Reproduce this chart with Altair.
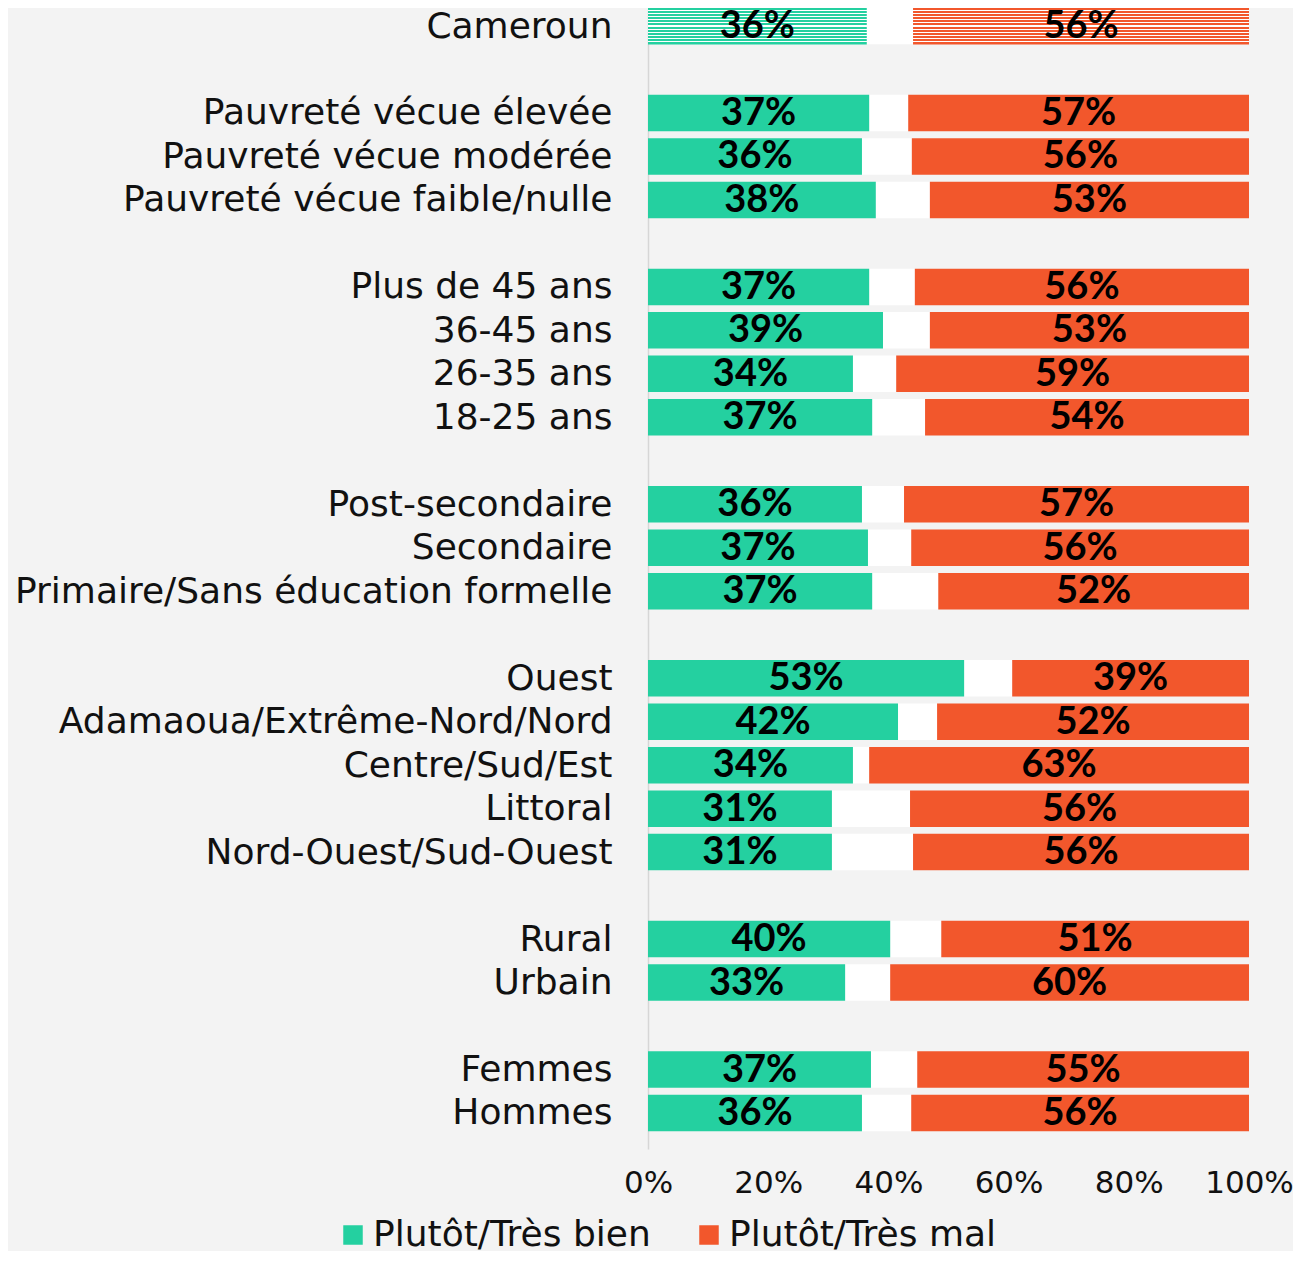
import json
import altair as alt
import pandas as pd

categories = ["Cameroun",
              "Pauvreté vécue élevée", "Pauvreté vécue modérée", "Pauvreté vécue faible/nulle",
              "Plus de 45 ans", "36-45 ans", "26-35 ans", "18-25 ans",
              "Post-secondaire", "Secondaire", "Primaire/Sans éducation formelle",
              "Ouest", "Adamaoua/Extrême-Nord/Nord", "Centre/Sud/Est", "Littoral", "Nord-Ouest/Sud-Ouest",
              "Rural", "Urbain",
              "Femmes", "Hommes"]
groups = [0, 1, 1, 1, 2, 2, 2, 2, 3, 3, 3, 4, 4, 4, 4, 4, 5, 5, 6, 6]
bien = [36.4, 36.8, 35.6, 37.9, 36.8, 39.1, 34.1, 37.3, 35.6, 36.6, 37.3,
        52.6, 41.6, 34.1, 30.6, 30.6, 40.3, 32.8, 37.1, 35.6]
mal = [55.9, 56.7, 56.1, 53.1, 55.6, 53.1, 58.7, 53.9, 57.4, 56.2, 51.7,
       39.4, 51.9, 63.2, 56.4, 55.9, 51.2, 59.7, 55.2, 56.2]
bien_labels = [36, 37, 36, 38, 37, 39, 34, 37, 36, 37, 37, 53, 42, 34, 31, 31, 40, 33, 37, 36]
mal_labels = [56, 57, 56, 53, 56, 53, 59, 54, 57, 56, 52, 39, 52, 63, 56, 56, 51, 60, 55, 56]
series = ["Plutôt/Très bien", "Plutôt/Très mal"]
colors = ["#24D0A0", "#F2572C"]
x_ticks = [0, 20, 40, 60, 80, 100]

rows = [i + g for i, g in enumerate(groups)]
n_rows = max(rows) + 1
row_labels = [""] * n_rows
for r, c in zip(rows, categories):
    row_labels[r] = c

long_rows = []
gap_rows = []
for c, r, b, m, bl, ml in zip(categories, rows, bien, mal, bien_labels, mal_labels):
    long_rows.append(dict(cat=c, row=r, series=series[0], start=0, end=b, mid=b / 2, label=f"{bl}%"))
    long_rows.append(dict(cat=c, row=r, series=series[1], start=100 - m, end=100, mid=100 - m / 2, label=f"{ml}%"))
    gap_rows.append(dict(cat=c, row=r, start=b, end=100 - m))
df = pd.DataFrame(long_rows)
gap_df = pd.DataFrame(gap_rows)

BAR = 36.5
FONT = "DejaVu Sans"

x_scale = alt.Scale(domain=[0, 100], nice=False, zero=False, padding=0)
y_scale = alt.Scale(domain=[-0.368, n_rows - 1 + 0.828], reverse=True, nice=False, zero=False, padding=0)

x_axis = alt.Axis(values=x_ticks, labelExpr="datum.value + '%'", title=None,
                  ticks=False, domain=False, grid=False, labelPadding=19,
                  labelFontSize=31, labelFont=FONT, labelColor="#111",
                  labelFlush=False, labelOverlap=False)
y_enc = alt.Y("row:Q", scale=y_scale,
              axis=alt.Axis(values=rows, labelExpr=json.dumps(row_labels) + "[datum.value]",
                            title=None, ticks=False, grid=False, domain=True,
                            domainColor="#d6d6d6", domainWidth=1.5, labelPadding=36,
                            labelFontSize=36, labelFont=FONT, labelColor="#111",
                            labelLimit=0, labelFlush=False, labelOverlap=False))
x_enc = alt.X("start:Q", scale=x_scale, axis=x_axis)


def stripes(color, n=12, f=0.66):
    p = 1.0 / (n - 1 + f)
    stops = []
    for k in range(n):
        a = k * p
        b = min(1.0, a + f * p)
        stops.append(alt.GradientStop(color=color, offset=a))
        stops.append(alt.GradientStop(color=color, offset=b))
        if k < n - 1:
            stops.append(alt.GradientStop(color="white", offset=b))
            stops.append(alt.GradientStop(color="white", offset=(k + 1) * p))
    return alt.Gradient(gradient="linear", stops=stops, x1=0, x2=0, y1=0, y2=1)


gap = alt.Chart(gap_df).mark_bar(size=BAR, color="white").encode(
    x=x_enc, x2="end:Q", y=y_enc)

bars = alt.Chart(df).transform_filter(alt.datum.cat != categories[0]).mark_bar(size=BAR).encode(
    x=x_enc, x2="end:Q", y=y_enc,
    color=alt.Color("series:N", scale=alt.Scale(domain=series, range=colors),
                    legend=alt.Legend(title=None, orient="none", direction="horizontal",
                                      legendX=-313, legendY=1207, symbolType="square",
                                      symbolSize=380, symbolStrokeWidth=0, labelFontSize=36,
                                      labelFont=FONT, labelColor="#111", labelOffset=2,
                                      columnPadding=40, padding=0, labelLimit=0)))

cam_layers = []
for s, col in zip(series, colors):
    cam_layers.append(
        alt.Chart(df).transform_filter((alt.datum.cat == categories[0]) & (alt.datum.series == s))
        .mark_bar(size=BAR + 0.5, color=stripes(col))
        .encode(x=x_enc, x2="end:Q", y=y_enc))

labels = alt.Chart(df).mark_text(font="Lato", fontWeight="bold", fontSize=38, color="#000",
                                 align="center", baseline="middle", dy=1).encode(
    x=alt.X("mid:Q", scale=x_scale, axis=x_axis), y=y_enc, text="label:N")

chart = alt.layer(gap, bars, *cam_layers, labels).properties(
    width=601, height=1139,
    padding={"left": 640, "top": 2, "right": 44, "bottom": 102},
    autosize=alt.AutoSizeParams(type="none"),
).configure(background="#f3f3f3").configure_view(stroke=None)

chart.save("out.html", embed_options={"renderer": "svg", "actions": False})
